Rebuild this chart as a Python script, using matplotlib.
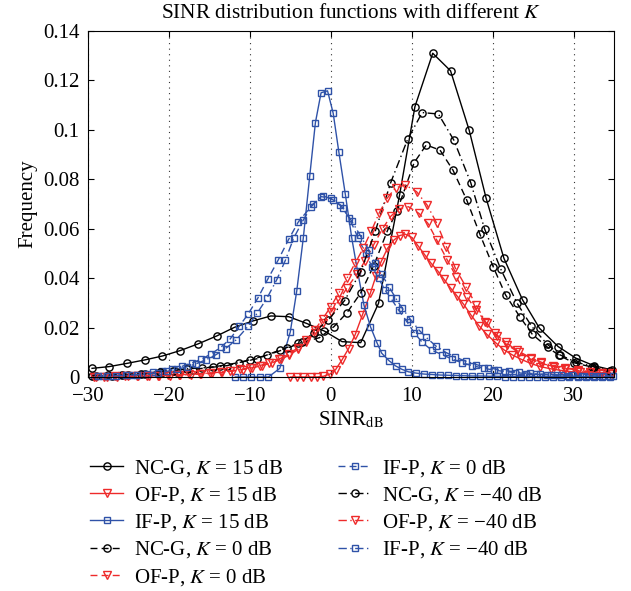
import matplotlib
matplotlib.use("Agg")
import matplotlib.pyplot as plt
from matplotlib.ticker import FuncFormatter

plt.rcParams['font.family'] = ['Liberation Serif', 'DejaVu Serif']
plt.rcParams['mathtext.fontset'] = 'stix'

# ---------------- data ----------------
# NC-G, K = 15 dB
ncg15_x = [-29.5, -27.4, -25.2, -23.0, -20.8, -18.6, -16.4, -14.1, -11.9, -9.6, -7.4, -5.2, -3.0, -0.8,
           1.4, 3.7, 5.9, 8.5, 10.4, 12.6, 14.8, 17.1, 19.2, 21.4, 23.7, 25.8, 28.1, 30.3, 32.5, 34.8]
ncg15_y = [0.0035, 0.0042, 0.0055, 0.0069, 0.0085, 0.0107, 0.0134, 0.0166, 0.0201, 0.0227, 0.0247, 0.0244,
           0.0217, 0.0186, 0.0143, 0.0139, 0.0298, 0.0736, 0.1094, 0.1310, 0.1239, 0.0999, 0.0723, 0.0480,
           0.0312, 0.0197, 0.0123, 0.0076, 0.0046, 0.0028]

# NC-G, K = 0 dB
ncg0_x = [-29.0, -27.0, -25.0, -23.0, -21.0, -19.0, -17.0, -15.9, -13.7, -11.4, -9.1, -6.3, -4.0, -1.4,
          0.4, 2.0, 3.7, 5.3, 7.0, 8.2, 10.3, 11.8, 13.5, 15.1, 16.8, 18.4, 20.1, 21.6, 23.4, 24.9,
          26.8, 28.2, 30.0, 32.3, 34.5]
ncg0_y = [0.0004, 0.0006, 0.0008, 0.0011, 0.0016, 0.0022, 0.0030, 0.0035, 0.0045, 0.0058, 0.0074, 0.0109,
          0.0136, 0.0159, 0.0204, 0.0260, 0.0340, 0.0450, 0.0592, 0.0673, 0.0867, 0.0939, 0.0918, 0.0837,
          0.0716, 0.0580, 0.0444, 0.0332, 0.0242, 0.0173, 0.0120, 0.0088, 0.0058, 0.0040, 0.0024]

# NC-G, K = -40 dB
ncg40_x = [-29.5, -27.5, -25.8, -23.5, -21.1, -19.5, -17.8, -14.5, -12.8, -10.0, -7.9, -5.4, -3.6, -2.1,
           -0.3, 1.7, 3.7, 5.5, 7.4, 9.5, 11.3, 13.3, 15.2, 17.3, 19.0, 21.0, 23.0, 24.8, 26.7, 28.3,
           30.3, 32.5, 34.5]
ncg40_y = [0.0005, 0.0007, 0.0009, 0.0014, 0.0021, 0.0026, 0.0033, 0.0040, 0.0046, 0.0070, 0.0088, 0.0116,
           0.0140, 0.0179, 0.0231, 0.0309, 0.0426, 0.0590, 0.0786, 0.0962, 0.1070, 0.1064, 0.0959, 0.0786,
           0.0600, 0.0437, 0.0300, 0.0206, 0.0134, 0.0090, 0.0060, 0.0042, 0.0025]

# OF-P, K = 15 dB
ofp15_x = [-5.0, -4.2, -3.4, -2.5, -1.7, -0.9, -0.1, 0.6, 1.4, 2.2, 3.0, 3.9, 4.9, 5.6, 6.2, 7.0, 7.8, 8.5,
           9.2, 10.0, 10.8, 11.6, 12.4, 13.2, 14.0, 14.8, 15.6, 16.4, 17.3, 18.3, 19.3, 20.4, 21.4, 22.4,
           23.5, 24.7, 25.9, 27.2, 28.4, 29.6, 30.8, 32.1, 33.3, 34.5]
ofp15_y = [0.0, 0.0, 0.0, 0.0, 0.0, 0.0003, 0.0012, 0.0030, 0.0070, 0.0115, 0.0170, 0.0250, 0.0340, 0.0410,
           0.0465, 0.0520, 0.0554, 0.0572, 0.0578, 0.0565, 0.0530, 0.0495, 0.0460, 0.0430, 0.0395, 0.0360,
           0.0328, 0.0295, 0.0252, 0.0208, 0.0172, 0.0138, 0.0110, 0.0090, 0.0072, 0.0055, 0.0042, 0.0033,
           0.0027, 0.0022, 0.0019, 0.0016, 0.0014, 0.0012]

# OF-P, K = 0 dB
ofp0_x = [-29.0, -27.7, -26.4, -25.1, -23.8, -22.5, -21.2, -19.9, -18.6, -17.3, -16.0, -14.7, -13.4, -12.1,
          -10.9, -9.7, -8.5, -7.3, -6.2, -5.1, -4.0, -3.0, -2.0, -1.0, 0.0, 1.0, 2.0, 3.2, 4.2, 5.3, 6.4,
          7.4, 8.4, 9.6, 10.9, 12.0, 13.1, 14.4, 15.5, 16.8, 18.0, 19.3, 20.5, 21.8, 23.2, 24.7, 26.0,
          27.6, 29.0, 30.5, 32.0, 33.5, 34.8]
ofp0_y = [0.0001, 0.0002, 0.0002, 0.0003, 0.0003, 0.0004, 0.0005, 0.0006, 0.0008, 0.0010, 0.0012, 0.0015,
          0.0019, 0.0024, 0.0030, 0.0037, 0.0046, 0.0057, 0.0071, 0.0089, 0.0113, 0.0142, 0.0178, 0.0218,
          0.0262, 0.0310, 0.0360, 0.0415, 0.0468, 0.0535, 0.0600, 0.0650, 0.0680, 0.0689, 0.0662, 0.0622,
          0.0554, 0.0473, 0.0406, 0.0325, 0.0270, 0.0217, 0.0165, 0.0130, 0.0100, 0.0072, 0.0055, 0.0042,
          0.0033, 0.0026, 0.0021, 0.0017, 0.0014]

# OF-P, K = -40 dB
ofp40_x = [-29.3, -28.0, -26.7, -25.4, -24.0, -22.7, -21.4, -20.1, -18.8, -17.5, -16.2, -14.9, -13.6, -12.4,
           -11.2, -10.0, -8.8, -7.6, -6.4, -5.2, -4.1, -3.0, -2.0, -1.0, 0.0, 1.0, 2.0, 3.0, 4.0, 5.0, 6.0,
           7.0, 8.0, 9.2, 10.6, 11.9, 13.1, 14.3, 15.4, 16.7, 18.0, 19.1, 20.3, 21.6, 23.0, 24.7, 26.0,
           27.5, 29.0, 30.5, 32.0, 33.5, 34.8]
ofp40_y = [0.0002, 0.0002, 0.0003, 0.0003, 0.0004, 0.0005, 0.0006, 0.0007, 0.0009, 0.0011, 0.0013, 0.0016,
           0.0020, 0.0025, 0.0031, 0.0038, 0.0046, 0.0057, 0.0072, 0.0092, 0.0118, 0.0150, 0.0190, 0.0235,
           0.0285, 0.0340, 0.0400, 0.0460, 0.0520, 0.0590, 0.0665, 0.0725, 0.0765, 0.0777, 0.0750, 0.0696,
           0.0622, 0.0527, 0.0440, 0.0365, 0.0290, 0.0224, 0.0177, 0.0140, 0.0108, 0.0078, 0.0060, 0.0045,
           0.0035, 0.0028, 0.0022, 0.0018, 0.0015]

# IF-P, K = 15 dB
ifp15_x = [-11.8, -10.8, -9.8, -8.7, -7.7, -6.3, -5.0, -4.2, -3.4, -2.6, -1.9, -1.2, -0.4, 0.3, 1.0, 1.8,
           2.6, 3.3, 4.1, 4.9, 5.7, 6.3, 7.2, 8.0, 8.8, 9.6, 10.5, 11.5, 12.5, 13.5, 14.5, 15.5, 16.5,
           17.5, 18.5, 19.5, 20.5, 21.5, 22.5, 23.5, 24.5, 25.5, 26.5, 27.5, 28.5, 29.5, 30.5, 31.5,
           32.5, 33.5, 34.5]
ifp15_y = [0.0, 0.0, 0.0, 0.0, 0.0, 0.0035, 0.0183, 0.0349, 0.0561, 0.0813, 0.1029, 0.1150, 0.1158, 0.1067,
           0.0910, 0.0739, 0.0561, 0.0430, 0.0291, 0.0204, 0.0139, 0.0096, 0.0066, 0.0045, 0.0031, 0.0021,
           0.0016, 0.0012, 0.0010, 0.0008, 0.0007, 0.0006, 0.0005, 0.0004, 0.0004, 0.0003, 0.0003, 0.0002,
           0.0002, 0.0002, 0.0002, 0.0001, 0.0001, 0.0001, 0.0001, 0.0001, 0.0001, 0.0001, 0.0001, 0.0001,
           0.0001]

# IF-P, K = 0 dB
ifp0_x = [-29.3, -28.2, -27.1, -25.9, -24.6, -23.3, -22.0, -20.8, -19.6, -18.4, -17.2, -16.0, -14.8, -13.6,
          -12.4, -11.3, -10.2, -9.0, -7.8, -6.5, -5.2, -4.0, -2.5, -1.2, 0.0, 1.2, 2.3, 3.4, 4.3, 5.1, 5.9,
          6.7, 7.4, 8.4, 9.4, 10.3, 11.3, 12.5, 13.8, 15.0, 16.2, 17.5, 18.9, 20.2, 21.5, 22.8, 24.1,
          25.4, 26.7, 28.0, 29.3, 30.6, 31.9, 33.2, 34.5]
ifp0_y = [0.0003, 0.0004, 0.0005, 0.0007, 0.0010, 0.0014, 0.0019, 0.0025, 0.0033, 0.0043, 0.0056, 0.0072,
          0.0093, 0.0120, 0.0155, 0.0206, 0.0255, 0.0320, 0.0395, 0.0473, 0.0557, 0.0628, 0.0687, 0.0730,
          0.0723, 0.0696, 0.0642, 0.0561, 0.0500, 0.0446, 0.0400, 0.0352, 0.0320, 0.0270, 0.0224, 0.0180,
          0.0140, 0.0108, 0.0090, 0.0072, 0.0058, 0.0046, 0.0035, 0.0028, 0.0022, 0.0018, 0.0014, 0.0011,
          0.0009, 0.0007, 0.0006, 0.0005, 0.0004, 0.0003, 0.0003]

# IF-P, K = -40 dB
ifp40_x = [-28.8, -27.6, -26.5, -25.3, -24.0, -22.7, -21.4, -20.2, -19.0, -17.8, -16.6, -15.4, -14.2, -13.0,
           -11.7, -10.2, -9.1, -7.9, -6.7, -5.6, -4.6, -3.4, -2.2, -0.9, 0.3, 1.5, 2.6, 3.6, 4.7, 5.5, 6.3,
           7.2, 8.0, 8.8, 9.8, 10.9, 11.8, 13.0, 14.2, 15.4, 16.7, 18.0, 19.4, 20.7, 22.0, 23.3, 24.6,
           25.9, 27.2, 28.5, 29.8, 31.1, 32.4, 33.7, 34.9]
ifp40_y = [0.0003, 0.0004, 0.0005, 0.0007, 0.0009, 0.0012, 0.0017, 0.0023, 0.0031, 0.0041, 0.0054, 0.0070,
           0.0090, 0.0115, 0.0150, 0.0206, 0.0258, 0.0318, 0.0392, 0.0473, 0.0561, 0.0635, 0.0700, 0.0732,
           0.0718, 0.0685, 0.0630, 0.0575, 0.0514, 0.0460, 0.0415, 0.0365, 0.0320, 0.0280, 0.0235, 0.0190,
           0.0160, 0.0125, 0.0100, 0.0080, 0.0064, 0.0050, 0.0038, 0.0030, 0.0024, 0.0019, 0.0015, 0.0012,
           0.0010, 0.0008, 0.0007, 0.0006, 0.0005, 0.0004, 0.0003]

x_ticks = [-30, -20, -10, 0, 10, 20, 30]
y_ticks = [0, 0.02, 0.04, 0.06, 0.08, 0.1, 0.12, 0.14]

# ---------------- styles ----------------
BLACK = '#000000'
RED = '#ee2a2a'
BLUE = '#2f52a8'
DASH = (0, (5, 3))
DASHDOT = (0, (6, 2.5, 1, 2.5))
series = [
    (ncg15_x, ncg15_y, BLACK, '-', 'o', 5.2, 'NC-G, $K$ = 15 dB'),
    (ofp15_x, ofp15_y, RED, '-', 'v', 5.2, 'OF-P, $K$ = 15 dB'),
    (ifp15_x, ifp15_y, BLUE, '-', 's', 3.8, 'IF-P, $K$ = 15 dB'),
    (ncg0_x, ncg0_y, BLACK, DASH, 'o', 5.2, 'NC-G, $K$ = 0 dB'),
    (ofp0_x, ofp0_y, RED, DASH, 'v', 5.2, 'OF-P, $K$ = 0 dB'),
    (ifp0_x, ifp0_y, BLUE, DASH, 's', 3.8, 'IF-P, $K$ = 0 dB'),
    (ncg40_x, ncg40_y, BLACK, DASHDOT, 'o', 5.2, 'NC-G, $K$ = \u221240 dB'),
    (ofp40_x, ofp40_y, RED, DASHDOT, 'v', 5.2, 'OF-P, $K$ = \u221240 dB'),
    (ifp40_x, ifp40_y, BLUE, DASHDOT, 's', 3.8, 'IF-P, $K$ = \u221240 dB'),
]

FS = 15

fig = plt.figure(figsize=(6.31, 5.91), dpi=100)
ax = fig.add_axes([88 / 631, 1 - 377 / 591, (614 - 88) / 631, (377 - 31) / 591])

for xs, ys, c, ls, mk, ms, lab in series:
    ax.plot(xs, ys, color=c, linestyle=ls, linewidth=1.0, marker=mk, markersize=ms,
            markerfacecolor='none', markeredgecolor=c, markeredgewidth=1.0, label=lab, clip_on=False)

ax.set_xlim(-30, 35)
ax.set_ylim(0, 0.14)
ax.set_xticks(x_ticks)
ax.set_yticks(y_ticks)
ax.xaxis.set_major_formatter(FuncFormatter(lambda v, p: ('\u2212%g' % abs(v)) if v < 0 else '%g' % v))
ax.yaxis.set_major_formatter(FuncFormatter(lambda v, p: '%g' % v))
ax.tick_params(direction='in', top=True, right=True, labelsize=FS, length=4, width=0.8)
ax.tick_params(axis='x', pad=7)
ax.tick_params(axis='y', pad=6)
for s in ax.spines.values():
    s.set_linewidth(0.8)
ax.xaxis.grid(True, linestyle=(0, (1, 4)), color='#333333', linewidth=0.8)
ax.set_axisbelow(True)

ax.set_title('SINR distribution functions with different $K$', fontsize=15.3, pad=9)
ax.set_xlabel('SINR$_{\\mathrm{dB}}$', fontsize=FS, labelpad=3)
ax.set_ylabel('Frequency', fontsize=FS, labelpad=4)

fig.legend(loc='upper left', bbox_to_anchor=(90 / 631, 1 - 458 / 591), ncol=2, frameon=False,
           fontsize=FS, handlelength=1.6, handletextpad=0.5, columnspacing=2.65,
           labelspacing=0.3, borderpad=0.0, borderaxespad=0.0, numpoints=1)

fig.savefig('out.png', dpi=100)
